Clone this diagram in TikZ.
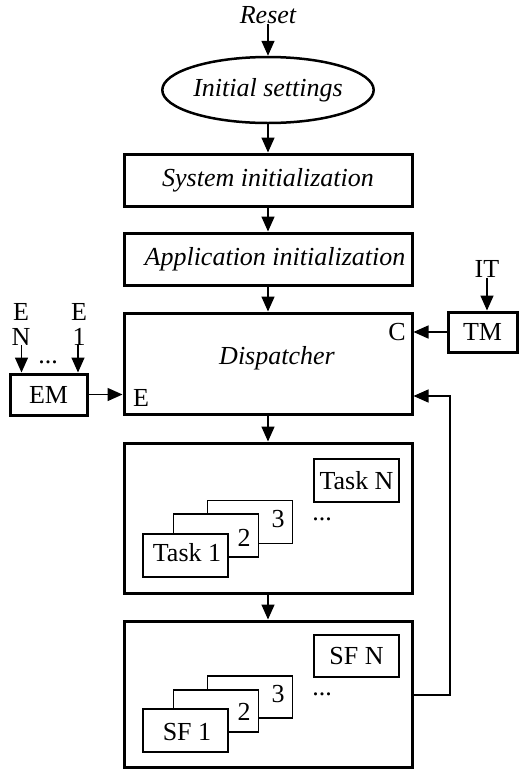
\documentclass[tikz,border=0pt]{standalone}
\usepackage{fontspec}
\setmainfont{Liberation Serif}
\usetikzlibrary{arrows.meta,shapes.geometric}
\begin{document}
\begin{tikzpicture}[x=1pt,y=-1pt,
  every node/.style={font=\fontsize{26}{28}\selectfont, inner sep=0pt},
  bigbox/.style={draw, line width=3pt, minimum width=288pt},
  smallbox/.style={draw, line width=1.2pt, fill=white, minimum width=85pt, minimum height=43pt},
  iobox/.style={draw, line width=3pt},
  conn/.style={line width=1.5pt, -{Triangle[length=15pt,width=13pt]}},
  fbline/.style={line width=1.3pt, -{Triangle[length=15pt,width=13pt]}}
]
\useasboundingbox (0,0) rectangle (521,769);

% top
\node (reset) at (268,15) {\itshape Reset};
\node[ellipse, draw, line width=2.5pt, minimum width=199pt, minimum height=66pt] (init) at (268,90) {\itshape Initial settings};
\node[bigbox, minimum height=52pt] (sys) at (268,180) {\itshape System initialization};
\node[bigbox, minimum height=52pt] (app) at (268,259) {};
\node (apptext) at (275,259) {\itshape Application initialization};
\node[bigbox, minimum height=101pt] (disp) at (268,363.5) {};
\node (disptext) at (277,358) {\itshape Dispatcher};
\node (Elbl) at (141,398) {E};
\node (Clbl) at (397,332) {C};

% EM
\node[iobox, minimum width=77pt, minimum height=41pt] (em) at (48.5,394.5) {EM};
\node[align=center, font=\fontsize{26}{25}\selectfont] (en) at (21,324) {E\\N};
\node[align=center, font=\fontsize{26}{25}\selectfont] (e1) at (79,324) {E\\1};
\node (edots) at (48,362) {...};

% TM
\node[iobox, minimum width=69pt, minimum height=40pt] (tm) at (482.5,332) {TM};
\node (it) at (487,269) {IT};

% task box
\node[bigbox, minimum height=150pt] (task) at (268,518) {};
\node[smallbox] (t3) at (250,522) {};
\node[smallbox] (t2) at (216,535.5) {};
\node[smallbox] (t1) at (185.5,555.5) {};
\node (t3l) at (278,519) {3};
\node (t2l) at (244,538) {2};
\node (t1l) at (187,553) {Task 1};
\node[smallbox] (tn) at (356.5,480.5) {Task N};
\node (tdots) at (322,519) {...};

% SF box
\node[bigbox, minimum height=146pt] (sf) at (268,694) {};
\node[smallbox, minimum height=42pt] (s3) at (250,697) {};
\node[smallbox, minimum height=42pt] (s2) at (216,711) {};
\node[smallbox] (s1) at (185.5,730.5) {};
\node (s3l) at (278,694) {3};
\node (s2l) at (244,712) {2};
\node (s1l) at (187,732) {SF 1};
\node[smallbox, minimum height=42pt] (sn) at (356.5,656) {SF N};
\node (sdots) at (322,694) {...};

% connectors
\draw[conn] (reset.south) -- (init.north);
\draw[conn] (init.south) -- (sys.north);
\draw[conn] (sys.south) -- (app.north);
\draw[conn] (app.south) -- (disp.north);
\draw[conn] (disp.south) -- (task.north);
\draw[conn] (task.south) -- (sf.north);
\draw[conn] (em.east) -- (em.east -| disp.west);
\draw[conn] (tm.west) -- (tm.west -| disp.east);
\draw[conn] (it.south) -- (it.south |- tm.north);
\draw[conn] ([xshift=0.5pt]en.south) -- ([xshift=0.5pt]en.south |- em.north);
\draw[conn] ([xshift=-1pt]e1.south) -- ([xshift=-1pt]e1.south |- em.north);

\coordinate (fb1) at (450,695);
\coordinate (fb2) at (450,396);
\draw[fbline] (sf.east |- fb1) -- (fb1) -- (fb2) -- (fb2 -| disp.east);
\end{tikzpicture}
\end{document}
